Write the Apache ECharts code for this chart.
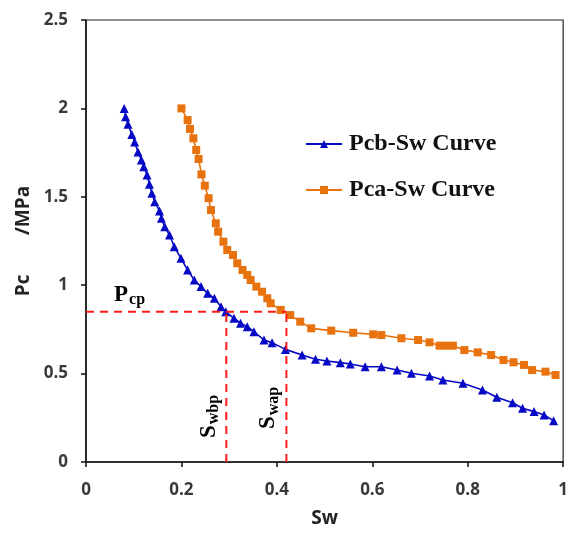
<!DOCTYPE html>
<html>
<head>
<meta charset="utf-8">
<script src="https://cdn.jsdelivr.net/npm/echarts@6/dist/echarts.min.js"></script>
<style>
  html, body { margin: 0; padding: 0; background: #fff; }
  #chart { width: 571px; height: 533px; }
</style>
</head>
<body>
<div id="chart"></div>
<script>
// Pcb-Sw curve
const pcbSw = [0.08, 0.083, 0.088, 0.096, 0.102, 0.109, 0.116, 0.121, 0.128, 0.133,
  0.138, 0.144, 0.154, 0.158, 0.165, 0.175, 0.185, 0.199, 0.213, 0.227,
  0.241, 0.255, 0.269, 0.283, 0.293, 0.31, 0.324, 0.338, 0.352, 0.373,
  0.39, 0.418, 0.453, 0.481, 0.505, 0.533, 0.554, 0.585, 0.619, 0.652,
  0.682, 0.72, 0.748, 0.79, 0.831, 0.861, 0.894, 0.915, 0.939, 0.96, 0.98]
const pcbPc = [2.0, 1.953, 1.91, 1.853, 1.81, 1.754, 1.708, 1.67, 1.623, 1.571,
  1.52, 1.472, 1.42, 1.378, 1.331, 1.284, 1.218, 1.152, 1.086, 1.029,
  0.992, 0.954, 0.926, 0.878, 0.85, 0.813, 0.785, 0.765, 0.737, 0.69,
  0.675, 0.637, 0.605, 0.581, 0.571, 0.562, 0.554, 0.539, 0.539, 0.52,
  0.502, 0.486, 0.464, 0.445, 0.407, 0.366, 0.335, 0.304, 0.285, 0.266, 0.234]

// Pca-Sw curve
const pcaSw = [0.2, 0.213, 0.218, 0.225, 0.231, 0.236, 0.242, 0.249, 0.257, 0.262,
  0.272, 0.277, 0.288, 0.296, 0.308, 0.317, 0.328, 0.338, 0.345, 0.357,
  0.369, 0.38, 0.387, 0.408, 0.428, 0.449, 0.472, 0.514, 0.56, 0.602,
  0.619, 0.661, 0.696, 0.72, 0.741, 0.755, 0.769, 0.793, 0.821, 0.849,
  0.875, 0.896, 0.918, 0.935, 0.963, 0.984]
const pcaPc = [2.0, 1.934, 1.884, 1.831, 1.765, 1.714, 1.627, 1.563, 1.492, 1.425,
  1.35, 1.303, 1.246, 1.199, 1.171, 1.124, 1.086, 1.058, 1.029, 0.992,
  0.963, 0.926, 0.898, 0.86, 0.831, 0.794, 0.756, 0.743, 0.731, 0.722,
  0.718, 0.7, 0.69, 0.677, 0.658, 0.658, 0.658, 0.633, 0.62, 0.605,
  0.577, 0.564, 0.549, 0.52, 0.511, 0.492]

// reference points (dashed guides)
const pcp = 0.85
const swbp = 0.294
const swap = 0.42

const seriesNames = ['Pcb-Sw Curve', 'Pca-Sw Curve']
const xTicks = [0, 0.2, 0.4, 0.6, 0.8, 1]
const yTicks = [0, 0.5, 1, 1.5, 2, 2.5]

const zip = (xs, ys) => xs.map((x, i) => [x, ys[i]])

const tickFont = { fontFamily: 'Open Sans', fontWeight: 'bold', fontSize: 17, color: '#3a3a3a' }
const serif = 'Liberation Serif'
const guideStyle = { color: '#ff1a1a', width: 2, type: [8, 6] }

const chart = echarts.init(document.getElementById('chart'))
chart.setOption({
  animation: false,
  backgroundColor: '#fff',
  grid: { left: 86, right: 5, top: 20, bottom: 71, show: true, borderColor: '#222', borderWidth: 1.2 },
  legend: {
    data: seriesNames,
    orient: 'vertical',
    left: 300,
    top: 127,
    itemGap: 22,
    itemWidth: 36,
    itemHeight: 10,
    textStyle: { fontFamily: serif, fontWeight: 'bold', fontSize: 24, color: '#111', padding: [0, 0, 0, 2] }
  },
  xAxis: {
    type: 'value',
    min: 0, max: 1, interval: 0.2,
    name: 'Sw',
    nameLocation: 'middle',
    nameGap: 47,
    nameTextStyle: { fontFamily: 'Open Sans', fontWeight: 'bold', fontSize: 19, color: '#222' },
    axisLine: { lineStyle: { color: '#111', width: 1.5 } },
    axisTick: { show: true, length: 5, lineStyle: { color: '#111', width: 1.5 } },
    axisLabel: Object.assign({ margin: 20, formatter: v => xTicks.includes(v) ? String(v) : '' }, tickFont),
    splitLine: { show: false }
  },
  yAxis: {
    type: 'value',
    min: 0, max: 2.5, interval: 0.5,
    name: 'Pc        /MPa',
    nameLocation: 'middle',
    nameGap: 48,
    nameTextStyle: { fontFamily: 'Open Sans', fontWeight: 'bold', fontSize: 19, color: '#222' },
    axisLine: { lineStyle: { color: '#111', width: 1.5 } },
    axisTick: { show: true, length: 5, lineStyle: { color: '#111', width: 1.5 } },
    axisLabel: Object.assign({ margin: 18, formatter: v => yTicks.includes(v) ? String(v) : '' }, tickFont),
    splitLine: { show: false }
  },
  series: [
    {
      name: seriesNames[0],
      type: 'line',
      data: zip(pcbSw, pcbPc),
      symbol: 'triangle',
      symbolSize: 9,
      itemStyle: { color: '#0508c4' },
      lineStyle: { color: '#0508c4', width: 1.6 },
      z: 4
    },
    {
      name: seriesNames[1],
      type: 'line',
      data: zip(pcaSw, pcaPc),
      symbol: 'rect',
      symbolSize: 8,
      itemStyle: { color: '#e8720e' },
      lineStyle: { color: '#e8720e', width: 1.6 },
      z: 3
    },
    {
      type: 'line', data: [[0, pcp], [swap, pcp]], symbol: 'none',
      lineStyle: guideStyle, z: 5, silent: true
    },
    {
      type: 'line', data: [[swbp, 0], [swbp, pcp]], symbol: 'none',
      lineStyle: guideStyle, z: 5, silent: true
    },
    {
      type: 'line', data: [[swap, 0], [swap, pcp]], symbol: 'none',
      lineStyle: guideStyle, z: 5, silent: true
    }
  ]
})

// annotation labels, placed relative to the guide lines
const pPcp = chart.convertToPixel({ gridIndex: 0 }, [0, pcp])
const pSwbp = chart.convertToPixel({ gridIndex: 0 }, [swbp, 0])
const pSwap = chart.convertToPixel({ gridIndex: 0 }, [swap, 0])

const richSub = {
  m: { fontFamily: serif, fontWeight: 'bold', fontSize: 23, color: '#111', lineHeight: 26 },
  s: { fontFamily: serif, fontWeight: 'bold', fontSize: 16, color: '#111', verticalAlign: 'bottom', lineHeight: 26, padding: [8, 0, 0, 1] }
}

chart.setOption({
  graphic: [
    {
      type: 'text',
      x: pPcp[0] + 28, y: pPcp[1] - 30,
      style: { text: '{m|P}{s|cp}', rich: richSub }
    },
    {
      type: 'text',
      x: pSwbp[0] - 30, y: pSwbp[1] - 24,
      rotation: Math.PI / 2,
      style: { text: '{m|S}{s|wbp}', rich: richSub }
    },
    {
      type: 'text',
      x: pSwap[0] - 31, y: pSwap[1] - 33,
      rotation: Math.PI / 2,
      style: { text: '{m|S}{s|wap}', rich: richSub }
    }
  ]
})
</script>
</body>
</html>
